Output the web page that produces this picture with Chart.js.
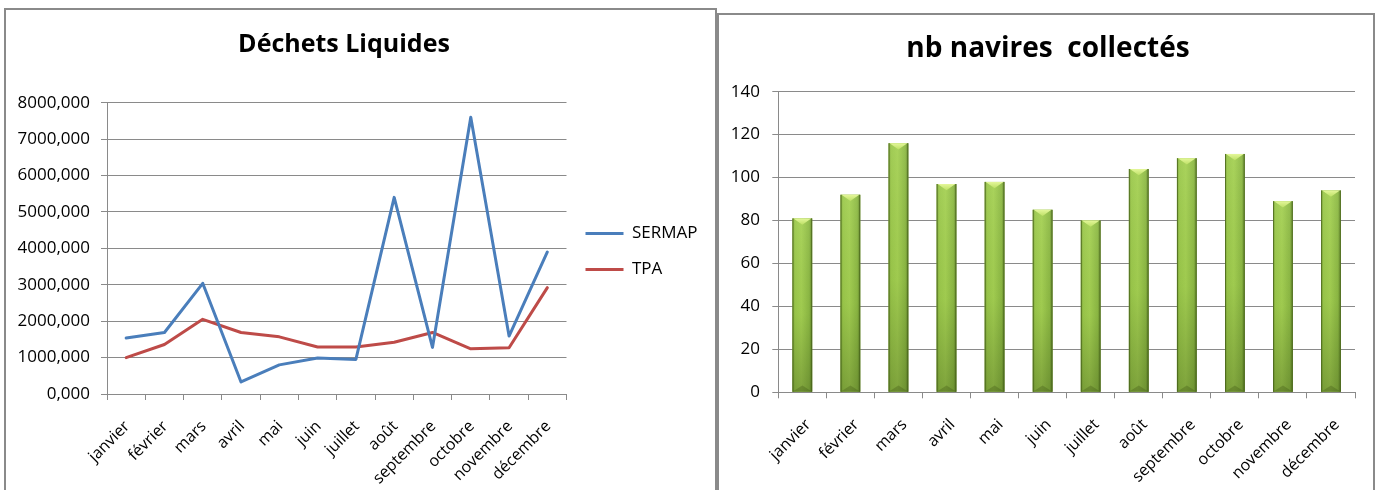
<!DOCTYPE html>
<html>
<head>
<meta charset="utf-8">
<script src="https://cdn.jsdelivr.net/npm/chart.js@4/dist/chart.umd.min.js"></script>
<style>
  html, body { margin: 0; padding: 0; background: #fff; }
  #page { position: relative; width: 1378px; height: 490px; overflow: hidden; }
  .frame { position: absolute; border: 2px solid #8a8a8a; box-sizing: border-box; }
  #frameL { left: 4px; top: 8px; width: 713px; height: 500px; }
  #frameR { left: 717px; top: 13px; width: 658px; height: 500px; }
  .box { position: absolute; top: 0; height: 490px; }
  #boxL { left: -20px; width: 728px; }
  #boxR { left: 718px; width: 660px; }
</style>
</head>
<body>
<div id="page">
  <div class="frame" id="frameL"></div>
  <div class="frame" id="frameR"></div>
  <div class="box" id="boxL"><canvas id="liquides"></canvas></div>
  <div class="box" id="boxR"><canvas id="navires"></canvas></div>
</div>
<script>
// Monthly figures
const months = ['janvier', 'février', 'mars', 'avril', 'mai', 'juin', 'juillet', 'août', 'septembre', 'octobre', 'novembre', 'décembre'];
const sermap = [1540, 1690, 3040, 330, 800, 990, 950, 5400, 1280, 7600, 1590, 3900];
const tpa = [1000, 1360, 2050, 1690, 1570, 1290, 1290, 1420, 1690, 1240, 1270, 2920];
const navires = [81, 92, 116, 97, 98, 85, 80, 104, 109, 111, 89, 94];

// Axis tick labels
const liquidesTicks = ['0,000', '1000,000', '2000,000', '3000,000', '4000,000', '5000,000', '6000,000', '7000,000', '8000,000'];
const naviresTicks = ['0', '20', '40', '60', '80', '100', '120', '140'];

const FONT = 'Open Sans';
const GRID = '#8a8a8a';
const tickFont = { family: FONT, size: 17 };
const monthFont = { family: FONT, size: 16 };

// Fixes the legend column width so the plot area ends where it should
const legendWidth = {
  id: 'legendWidth',
  afterInit(chart) {
    const lg = chart.legend;
    if (!lg) return;
    const fit = lg.fit;
    lg.fit = function () { fit.call(this); this.width = 141.5; };
  }
};

// Bevelled, shaded columns drawn over each bar element
const bevel = {
  id: 'bevel',
  afterDatasetsDraw(chart) {
    const ctx = chart.ctx;
    chart.getDatasetMeta(0).data.forEach(bar => {
      const { x, y, base, width } = bar.getProps(['x', 'y', 'base', 'width'], true);
      const l = x - width / 2, r = x + width / 2, h = base - y;
      ctx.save();
      let g = ctx.createLinearGradient(l, 0, r, 0);
      g.addColorStop(0, '#7aa035');
      g.addColorStop(0.12, '#9bc84b');
      g.addColorStop(0.45, '#a4d052');
      g.addColorStop(0.85, '#8db944');
      g.addColorStop(1, '#62852a');
      ctx.fillStyle = g;
      ctx.fillRect(l, y, width, h);
      g = ctx.createLinearGradient(0, y, 0, base);
      g.addColorStop(0, 'rgba(255,255,255,0.06)');
      g.addColorStop(0.55, 'rgba(40,60,10,0.04)');
      g.addColorStop(1, 'rgba(40,60,10,0.3)');
      ctx.fillStyle = g;
      ctx.fillRect(l, y, width, h);
      const d = Math.min(width * 0.32, h / 2);
      g = ctx.createLinearGradient(0, y, 0, y + d);
      g.addColorStop(0, '#e4f79a');
      g.addColorStop(1, '#bde066');
      ctx.fillStyle = g;
      ctx.beginPath();
      ctx.moveTo(l + 1, y);
      ctx.lineTo(r - 1, y);
      ctx.lineTo(x, y + d);
      ctx.closePath();
      ctx.fill();
      ctx.fillStyle = 'rgba(55,80,15,0.3)';
      ctx.beginPath();
      ctx.moveTo(l, base);
      ctx.lineTo(r, base);
      ctx.lineTo(x, base - d);
      ctx.closePath();
      ctx.fill();
      ctx.strokeStyle = 'rgba(70,98,25,0.75)';
      ctx.lineWidth = 1;
      ctx.beginPath();
      ctx.moveTo(l + 0.5, y); ctx.lineTo(l + 0.5, base);
      ctx.moveTo(r - 0.5, y); ctx.lineTo(r - 0.5, base);
      ctx.stroke();
      ctx.restore();
    });
  }
};

const xAxis = (height, shift) => ({
  offset: true,
  grid: { display: true, drawOnChartArea: false, drawTicks: true, tickLength: 6, offset: true, color: GRID },
  border: { display: true, color: GRID },
  ticks: { autoSkip: false, minRotation: 45, maxRotation: 45, padding: 17, labelOffset: shift, color: '#000', font: monthFont },
  afterFit(s) { s.height = height; }
});

new Chart(document.getElementById('liquides'), {
  type: 'line',
  data: {
    labels: months,
    datasets: [
      { label: 'SERMAP', data: sermap, borderColor: '#4a7ebb', backgroundColor: '#4a7ebb', borderWidth: 3, pointRadius: 0, tension: 0, fill: false, borderJoinStyle: 'round', borderCapStyle: 'round' },
      { label: 'TPA', data: tpa, borderColor: '#be4b48', backgroundColor: '#be4b48', borderWidth: 3, pointRadius: 0, tension: 0, fill: false, borderJoinStyle: 'round', borderCapStyle: 'round' }
    ]
  },
  options: {
    responsive: true,
    maintainAspectRatio: false,
    animation: false,
    layout: { padding: 0 },
    scales: {
      x: xAxis(96, 1),
      y: {
        min: 0, max: 8000,
        ticks: { stepSize: 1000, padding: 11, color: '#000', font: tickFont, callback: (v, i) => liquidesTicks[i] },
        grid: { color: GRID, tickLength: 6 },
        border: { display: true, color: GRID },
        afterFit(s) { s.width = 127; }
      }
    },
    plugins: {
      title: { display: true, text: 'Déchets Liquides', color: '#000', font: { family: FONT, size: 25, weight: 'bold' }, padding: { top: 30, bottom: 42.7 } },
      legend: {
        position: 'right', align: 'center',
        title: { display: true, text: '', font: { size: 1 }, padding: { top: 12, bottom: 0 } },
        labels: { usePointStyle: true, pointStyle: 'line', pointStyleWidth: 38, boxHeight: 17, padding: 19, color: '#000', font: tickFont }
      },
      tooltip: { enabled: false }
    }
  },
  plugins: [legendWidth]
});

new Chart(document.getElementById('navires'), {
  type: 'bar',
  data: {
    labels: months,
    datasets: [{ label: 'nb navires', data: navires, backgroundColor: '#9bbb59', barPercentage: 0.41, categoryPercentage: 1 }]
  },
  options: {
    responsive: true,
    maintainAspectRatio: false,
    animation: false,
    layout: { padding: 0 },
    scales: {
      x: xAxis(97.7, 6),
      y: {
        min: 0, max: 140,
        ticks: { stepSize: 20, padding: 12.3, color: '#000', font: tickFont, callback: (v, i) => naviresTicks[i] },
        grid: { color: GRID, tickLength: 6 },
        border: { display: true, color: GRID },
        afterFit(s) { s.width = 60.3; }
      },
      pad: {
        type: 'linear', axis: 'y', position: 'right', display: true,
        grid: { display: false }, border: { display: false }, ticks: { display: false },
        afterFit(s) { s.width = 23; }
      }
    },
    plugins: {
      title: { display: true, text: 'nb navires  collectés', color: '#000', font: { family: FONT, size: 28, weight: 'bold' }, padding: { top: 32, bottom: 26.1 } },
      legend: { display: false },
      tooltip: { enabled: false }
    }
  },
  plugins: [bevel]
});
</script>
</body>
</html>
